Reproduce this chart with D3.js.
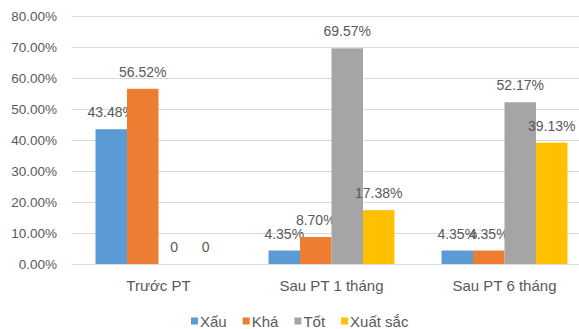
<!DOCTYPE html>
<html>
<head>
<meta charset="utf-8">
<script src="https://cdn.jsdelivr.net/npm/d3@7"></script>
<style>
  body { margin: 0; background: #fff; }
  svg text { font-family: "Liberation Sans", Arial, sans-serif; fill: #595959; }
  .grid line { stroke: #d9d9d9; stroke-width: 1; }
  .grid path { display: none; }
</style>
</head>
<body>
<svg width="579" height="329"></svg>
<script>
// chart data
const categories = ["Trước PT", "Sau PT 1 tháng", "Sau PT 6 tháng"];
const seriesNames = ["Xấu", "Khá", "Tốt", "Xuất sắc"];
const xau = [43.48, 4.35, 4.35];
const kha = [56.52, 8.70, 4.35];
const tot = [0, 69.57, 52.17];
const xuatSac = [0, 17.38, 39.13];
const yTicks = [0, 10, 20, 30, 40, 50, 60, 70, 80];
const colors = ["#5b9bd5", "#ed7d31", "#a5a5a5", "#ffc000"];

const series = [xau, kha, tot, xuatSac];

const svg = d3.select("svg");
const plotLeft = 72, plotRight = 591, plotTop = 16, plotBottom = 264;

const x = d3.scaleBand()
    .domain(categories)
    .range([plotLeft, plotRight])
    .paddingInner(0.272)
    .paddingOuter(0.136);

const xs = d3.scaleBand()
    .domain(seriesNames)
    .range([0, x.bandwidth()]);

const y = d3.scaleLinear().domain([0, 80]).range([plotBottom, plotTop]);

// gridlines
svg.append("g")
    .attr("class", "grid")
    .attr("transform", `translate(${plotLeft},0)`)
    .call(d3.axisRight(y).tickValues(yTicks).tickSize(579 - plotLeft).tickFormat(""));

// y labels
svg.append("g").selectAll("text")
    .data(yTicks)
    .enter()
    .append("text")
    .attr("x", 57)
    .attr("y", d => y(d))
    .attr("dy", "0.35em")
    .attr("text-anchor", "end")
    .style("font-size", "13.5px")
    .text(d => d.toFixed(2) + "%");

// bars
const groups = svg.append("g").selectAll("g")
    .data(series)
    .enter()
    .append("g")
    .attr("fill", (d, i) => colors[i]);

groups.each(function (vals, si) {
    const g = d3.select(this);
    const rows = vals.map((v, ci) => ({ cat: categories[ci], v: v, s: seriesNames[si] }));
    g.selectAll("rect")
        .data(rows)
        .enter()
        .append("rect")
        .attr("x", d => x(d.cat) + xs(d.s))
        .attr("y", d => y(d.v))
        .attr("width", xs.bandwidth())
        .attr("height", d => plotBottom - y(d.v));
    g.selectAll("text")
        .data(rows)
        .enter()
        .append("text")
        .attr("x", d => x(d.cat) + xs(d.s) + xs.bandwidth() / 2)
        .attr("y", d => y(d.v) - 12)
        .attr("text-anchor", "middle")
        .style("font-size", "14px")
        .text(d => d.v === 0 ? "0" : d.v.toFixed(2) + "%");
});

// category labels
svg.append("g").selectAll("text")
    .data(categories)
    .enter()
    .append("text")
    .attr("x", d => x(d) + x.bandwidth() / 2)
    .attr("y", 291)
    .attr("text-anchor", "middle")
    .style("font-size", "15px")
    .text(d => d);

// legend
const legend = svg.append("g").attr("transform", "translate(191,321)");
let lx = 0;
seriesNames.forEach((name, i) => {
    legend.append("rect")
        .attr("x", lx).attr("y", -3.5)
        .attr("width", 7).attr("height", 7)
        .attr("fill", colors[i]);
    const t = legend.append("text")
        .attr("x", lx + 9)
        .attr("y", 0)
        .attr("dy", "0.38em")
        .style("font-size", "15px")
        .text(name);
    lx += 9 + t.node().getComputedTextLength() + 16;
});
</script>
</body>
</html>
